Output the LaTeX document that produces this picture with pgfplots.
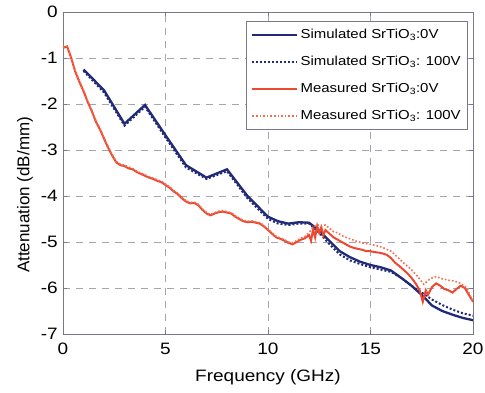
\documentclass[border=0pt]{standalone}
\usepackage{fontspec}
\setmainfont{Liberation Sans}[FakeStretch=1.15]
\newfontfamily\ylabfont{Liberation Sans}
\usepackage{pgfplots}
\pgfplotsset{compat=1.18}
\definecolor{simblue}{RGB}{32,42,118}
\definecolor{measred}{RGB}{238,72,48}
\definecolor{measred2}{RGB}{242,110,80}
\definecolor{framegray}{RGB}{120,120,138}
\definecolor{gridgray}{RGB}{165,165,175}
\begin{document}
\begin{tikzpicture}
\begin{axis}[
  name=ax,
  scale only axis,
  width=410pt, height=322pt,
  xmin=0, xmax=20, ymin=-7, ymax=0,
  xtick={0,5,10,15,20},
  ytick={-7,-6,-5,-4,-3,-2,-1,0},
  /pgf/number format/assume math mode=true,
  tick label style={font=\fontsize{16.5}{18}\selectfont},
  xticklabel style={inner sep=0pt, anchor=north, yshift=-9pt},
  yticklabel style={inner sep=0pt, anchor=east, xshift=-5pt},
  xlabel={Frequency (GHz)},
  ylabel={Attenuation (dB/mm)},
  xlabel style={font=\fontsize{16.5}{18}\selectfont, at={(axis description cs:0.5,-0.146)}, anchor=base, inner sep=0pt},
  ylabel style={font=\ylabfont\fontsize{17}{18}\selectfont, at={(axis description cs:-0.0927,0.432)}, anchor=center, inner sep=0pt},
  tick align=inside,
  major tick length=4pt,
  axis line style={framegray, line width=0.8pt},
  every tick/.style={framegray, line width=0.6pt},
  grid=major,
  major grid style={gridgray, dash pattern=on 7pt off 6pt, line width=0.6pt},
  legend style={at={(rel axis cs:0.988,0.972)}, anchor=north east,
    font=\fontsize{13}{15}\selectfont, draw=framegray, line width=0.8pt,
    inner xsep=5pt, inner ysep=4pt, row sep=8pt,
    nodes={inner sep=2pt, text height=11pt, text depth=4pt},
    legend cell align=left},
  legend image code/.code={\draw[#1] (0pt,0pt) -- (45pt,0pt);},
]
\addplot[simblue, line width=2.3pt] coordinates {
(1,-1.25) (2,-1.7) (3,-2.43) (4,-2.02) (5,-2.68) (6,-3.33) (7,-3.6) (8,-3.42) (9,-4.0)
(10,-4.45) (10.5,-4.55) (11,-4.6) (11.5,-4.57) (12,-4.58) (12.5,-4.75) (13,-4.98)
(13.5,-5.2) (14,-5.33) (14.5,-5.43) (15,-5.5) (15.5,-5.55) (16,-5.62) (16.5,-5.78)
(17,-5.95) (17.5,-6.15) (18,-6.38) (18.5,-6.5) (19,-6.58) (19.5,-6.65) (20,-6.7)
};
\addlegendentry{Simulated SrTiO\textsubscript{3}:0V}
\addplot[simblue, line width=2pt, dotted] coordinates {
(1,-1.28) (2,-1.75) (3,-2.47) (4,-2.06) (5,-2.73) (6,-3.38) (7,-3.63) (8,-3.46) (9,-4.05)
(10,-4.5) (10.5,-4.6) (11,-4.63) (11.5,-4.6) (12,-4.6) (12.5,-4.8) (13,-5.05)
(13.5,-5.27) (14,-5.4) (14.5,-5.48) (15,-5.55) (15.5,-5.6) (16,-5.65) (16.5,-5.78)
(17,-5.95) (17.5,-6.1) (18,-6.25) (18.5,-6.37) (19,-6.47) (19.5,-6.55) (20,-6.6)
};
\addlegendentry{Simulated SrTiO\textsubscript{3}: 100V}
\addplot[measred, line width=2pt] coordinates {
(0,-0.78) (0.2,-0.75) (0.4,-1.0) (0.6,-1.3) (0.8,-1.52) (1.0,-1.72) (1.2,-1.95)
(1.4,-2.15) (1.6,-2.38) (1.8,-2.55) (2.0,-2.75) (2.2,-2.95) (2.4,-3.12) (2.6,-3.27)
(2.8,-3.33) (3.0,-3.35) (3.2,-3.4) (3.4,-3.42) (3.6,-3.48) (3.8,-3.52) (4.0,-3.56)
(4.2,-3.6) (4.4,-3.63) (4.6,-3.67) (4.8,-3.7) (5.0,-3.76) (5.2,-3.82) (5.4,-3.9)
(5.6,-3.96) (5.8,-4.05) (6.0,-4.12) (6.2,-4.16) (6.4,-4.15) (6.6,-4.2) (6.8,-4.3)
(7.0,-4.38) (7.2,-4.42) (7.4,-4.38) (7.6,-4.35) (7.8,-4.34) (8.0,-4.36) (8.2,-4.38)
(8.4,-4.45) (8.6,-4.5) (8.8,-4.55) (9.0,-4.57) (9.2,-4.56) (9.4,-4.58) (9.6,-4.6)
(9.8,-4.66) (10.0,-4.74) (10.2,-4.82) (10.4,-4.9) (10.6,-4.93) (10.8,-4.97) (11.0,-5.02)
(11.2,-5.05) (11.4,-5.0) (11.6,-4.95) (11.8,-4.92) (12.0,-4.85) (12.1,-4.97) (12.2,-4.72)
(12.3,-4.9) (12.4,-4.65) (12.5,-4.8) (12.6,-4.68) (12.7,-4.86) (12.8,-4.74) (13.0,-4.82)
(13.2,-4.9) (13.4,-4.95) (13.6,-5.0) (13.8,-5.05) (14.0,-5.1) (14.2,-5.13) (14.4,-5.15)
(14.6,-5.17) (14.8,-5.2) (15.0,-5.2) (15.2,-5.22) (15.4,-5.23) (15.6,-5.25) (15.8,-5.28)
(16.0,-5.35) (16.2,-5.45) (16.4,-5.52) (16.6,-5.6) (16.8,-5.68) (17.0,-5.78) (17.2,-5.9)
(17.4,-6.05) (17.55,-6.3) (17.7,-6.05) (17.8,-6.15) (18.0,-5.98) (18.2,-5.9) (18.4,-5.95)
(18.6,-6.02) (18.8,-6.05) (19.0,-6.1) (19.2,-6.02) (19.4,-5.95) (19.6,-6.0) (19.8,-6.15)
(20.0,-6.3)
};
\addlegendentry{Measured SrTiO\textsubscript{3}:0V}
\addplot[measred2, line width=1.6pt, dotted] coordinates {
(0,-0.76) (0.2,-0.74) (0.4,-0.98) (0.6,-1.28) (0.8,-1.5) (1.0,-1.7) (1.2,-1.93)
(1.4,-2.13) (1.6,-2.36) (1.8,-2.53) (2.0,-2.73) (2.2,-2.93) (2.4,-3.1) (2.6,-3.25)
(2.8,-3.31) (3.0,-3.33) (3.2,-3.37) (3.4,-3.4) (3.6,-3.46) (3.8,-3.5) (4.0,-3.54)
(4.2,-3.58) (4.4,-3.61) (4.6,-3.65) (4.8,-3.68) (5.0,-3.74) (5.2,-3.8) (5.4,-3.88)
(5.6,-3.94) (5.8,-4.03) (6.0,-4.1) (6.2,-4.14) (6.4,-4.13) (6.6,-4.18) (6.8,-4.28)
(7.0,-4.36) (7.2,-4.4) (7.4,-4.36) (7.6,-4.33) (7.8,-4.32) (8.0,-4.34) (8.2,-4.36)
(8.4,-4.43) (8.6,-4.48) (8.8,-4.53) (9.0,-4.55) (9.2,-4.54) (9.4,-4.56) (9.6,-4.58)
(9.8,-4.64) (10.0,-4.72) (10.2,-4.8) (10.4,-4.88) (10.6,-4.91) (10.8,-4.95) (11.0,-5.0)
(11.2,-5.02) (11.4,-4.97) (11.6,-4.92) (11.8,-4.88) (12.0,-4.8) (12.2,-4.68) (12.4,-4.62)
(12.6,-4.66) (12.8,-4.63) (13.0,-4.7) (13.2,-4.78) (13.4,-4.8) (13.6,-4.86) (13.8,-4.9)
(14.0,-4.93) (14.3,-4.98) (14.6,-5.02) (15.0,-5.05) (15.3,-5.08) (15.6,-5.12) (16.0,-5.2)
(16.3,-5.32) (16.6,-5.45) (17.0,-5.6) (17.3,-5.75) (17.6,-5.92) (17.9,-5.8) (18.2,-5.75)
(18.5,-5.8) (18.8,-5.83) (19.1,-5.85) (19.4,-5.9) (19.7,-6.0) (20.0,-6.3)
};
\addlegendentry{Measured SrTiO\textsubscript{3}: 100V}
\end{axis}
\pgfresetboundingbox
\path (ax.south west) ++(-63pt,-58pt) rectangle ++(485pt,392pt);
\end{tikzpicture}
\end{document}
